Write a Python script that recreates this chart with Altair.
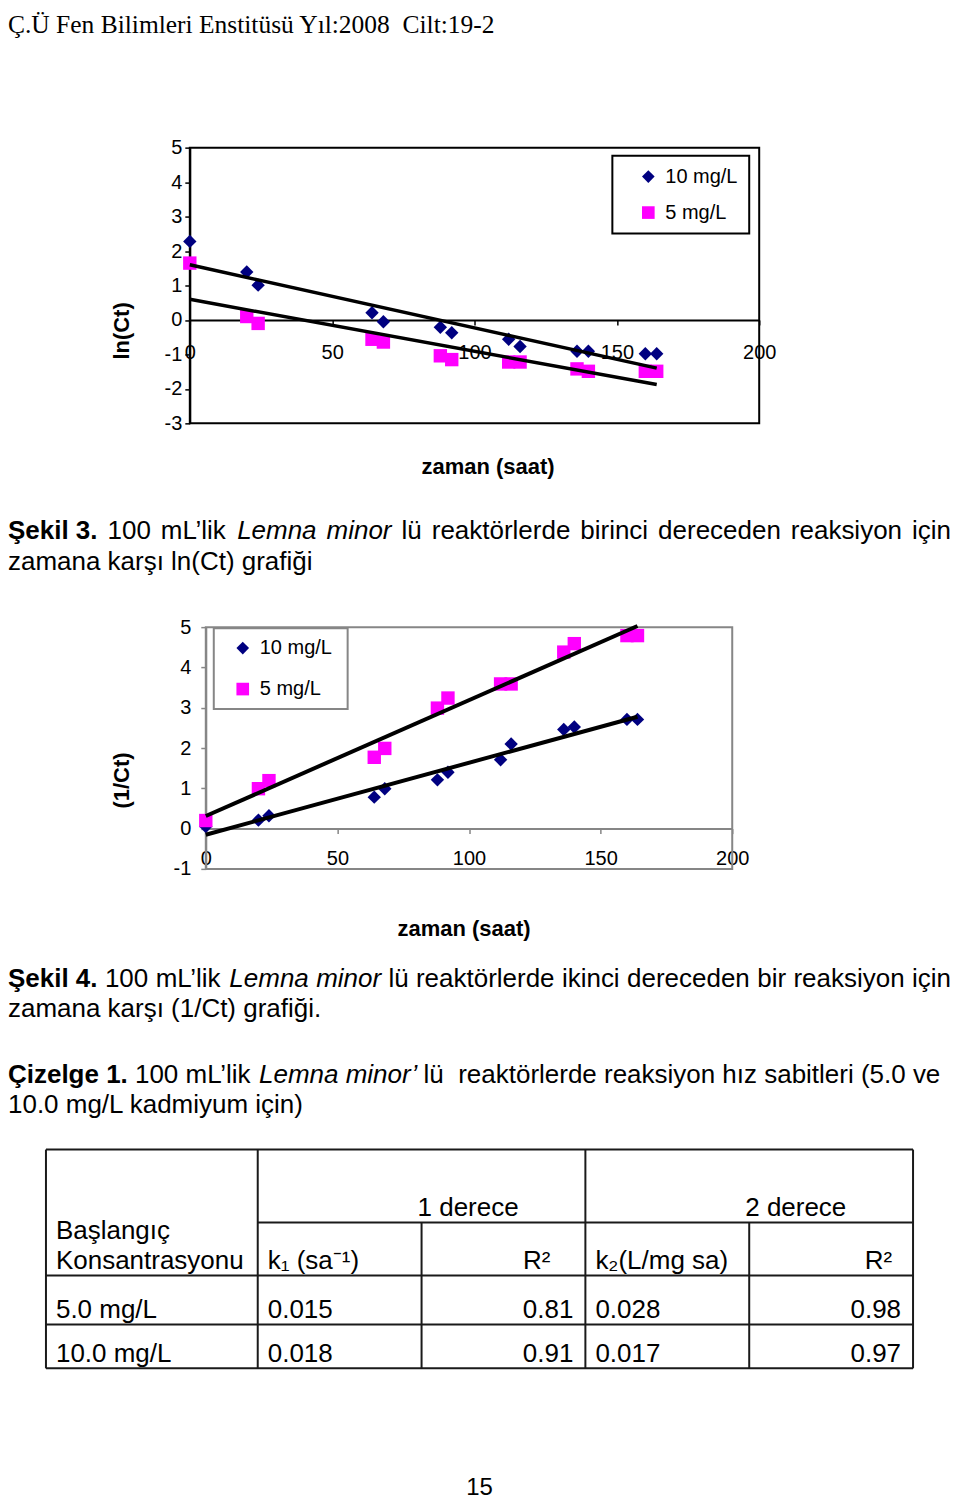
import altair as alt
import pandas as pd

# ---------------- data ----------------
times = [0, 20, 24, 64, 68, 88, 92, 112, 116, 136, 140, 160, 164]
series = ["10 mg/L", "5 mg/L"]
ln_ct_10 = [2.28, 1.39, 1.01, 0.21, -0.05, -0.21, -0.37, -0.56, -0.77, -0.91, -0.91, -0.98, -0.98]
ln_ct_5 = [1.65, 0.10, -0.10, -0.56, -0.64, -1.04, -1.15, -1.22, -1.22, -1.42, -1.49, -1.49, -1.49]
inv_ct_10 = [0.05, 0.21, 0.32, 0.78, 0.99, 1.21, 1.40, 1.71, 2.10, 2.46, 2.52, 2.71, 2.71]
inv_ct_5 = [0.20, 0.99, 1.19, 1.77, 1.99, 2.99, 3.24, 3.59, 3.59, 4.38, 4.59, 4.79, 4.79]
x_ticks = [0, 50, 100, 150, 200]
y1_ticks = [-3, -2, -1, 0, 1, 2, 3, 4, 5]
y2_ticks = [-1, 0, 1, 2, 3, 4, 5]

order_headers = ["1 derece", "2 derece"]
row_header = ["Başlangıç", "Konsantrasyonu"]
col_headers = ["k₁ (sa⁻¹)", "R²", "k₂(L/mg sa)", "R²"]
conc_labels = ["5.0 mg/L", "10.0 mg/L"]
k1_values = ["0.015", "0.018"]
r2_first = ["0.81", "0.91"]
k2_values = ["0.028", "0.017"]
r2_second = ["0.98", "0.97"]

# ---------------- layout / style constants ----------------
W = 944
H1, H2, H3 = 588, 450, 456
SANS = "Liberation Sans, Arial, Helvetica, sans-serif"
SERIF = "Liberation Serif, Times New Roman, serif"
NAVY = "#000080"
MAGENTA = "#FF00FF"
GRAY = "#868686"
ONE = pd.DataFrame({"k": [0]})


def text(s, x, y, size=26, weight="normal", style="normal", align="left", font=SANS):
    return alt.Chart(ONE).mark_text(
        align=align, baseline="alphabetic", font=font, fontSize=size,
        fontWeight=weight, fontStyle=style, color="black"
    ).encode(x=alt.value(x), y=alt.value(y), text=alt.value(s))


def words(items, y):
    out = []
    for it in items:
        s, x = it[0], it[1]
        w = it[2] if len(it) > 2 else "normal"
        st = it[3] if len(it) > 3 else "normal"
        out.append(text(s, x, y, weight=w, style=st))
    return out


def box(x1, x2, y1, y2, stroke):
    return alt.Chart(ONE).mark_rect(fill="white", stroke=stroke, strokeWidth=2).encode(
        x=alt.value(x1), x2=alt.value(x2), y=alt.value(y1), y2=alt.value(y2)
    )


def scatter_band(v10, v5, xr, ydom, yr, yticks, H, axis_color, line_w,
                 ytitle, ytitle_x, ytitle_y, xtitle_x, xtitle_y,
                 xlab_pad, ylab_pad, leg, legbox):
    df = pd.DataFrame({
        "t": times * 2,
        "v": v10 + v5,
        "s": [series[0]] * len(times) + [series[1]] * len(times),
    })
    frame = pd.DataFrame({"t": [0], "t2": [200], "v": [ydom[0]], "v2": [ydom[1]]})
    zero_y = yr[0] + (0 - ydom[0]) * (yr[1] - yr[0]) / (ydom[1] - ydom[0])
    xs = alt.Scale(domain=[0, 200], range=xr, nice=False, zero=False)
    ys = alt.Scale(domain=ydom, range=yr, nice=False, zero=False)
    xaxis = alt.Axis(
        orient="bottom", offset=zero_y - H, values=x_ticks, grid=False,
        domainColor=axis_color, domainWidth=2, tickColor=axis_color, tickWidth=1.5,
        tickSize=5, labelFont=SANS, labelFontSize=20, labelColor="black",
        labelPadding=xlab_pad, labelFlush=False, labelOverlap=False,
        labelExpr="'' + datum.value",
        title="zaman (saat)", titleFont=SANS, titleFontSize=22, titleFontWeight="bold",
        titleColor="black", titleX=xtitle_x, titleY=xtitle_y - zero_y,
        titleAlign="center", titleBaseline="alphabetic", titleAngle=0,
    )
    yaxis = alt.Axis(
        orient="left", offset=-xr[0], values=yticks, grid=False,
        domainColor=axis_color, domainWidth=2, tickColor=axis_color, tickWidth=1.5,
        tickSize=5, labelFont=SANS, labelFontSize=20, labelColor="black",
        labelPadding=ylab_pad, labelOverlap=False, labelExpr="'' + datum.value",
        title=ytitle, titleFont=SANS, titleFontSize=22, titleFontWeight="bold",
        titleColor="black", titleX=ytitle_x - xr[0], titleY=ytitle_y,
        titleAngle=270, titleAlign="center", titleBaseline="middle",
    )
    rect = alt.Chart(frame).mark_rect(fillOpacity=0, stroke=axis_color, strokeWidth=2).encode(
        x=alt.X("t:Q", scale=xs, axis=xaxis), x2="t2:Q",
        y=alt.Y("v:Q", scale=ys, axis=yaxis), y2="v2:Q",
    )
    pts = alt.Chart(df).mark_point(filled=True, size=180, opacity=1).encode(
        x=alt.X("t:Q", scale=xs, axis=xaxis),
        y=alt.Y("v:Q", scale=ys, axis=yaxis),
        color=alt.Color("s:N", scale=alt.Scale(domain=series, range=[NAVY, MAGENTA]), legend=leg),
        shape=alt.Shape("s:N", scale=alt.Scale(domain=series, range=["diamond", "square"]), legend=leg),
    )
    lines = alt.Chart(df).transform_regression("t", "v", groupby=["s"]).mark_line(
        color="black", strokeWidth=line_w
    ).encode(
        x=alt.X("t:Q", scale=xs, axis=xaxis),
        y=alt.Y("v:Q", scale=ys, axis=yaxis),
        detail="s:N",
    )
    return [rect, box(*legbox, axis_color), pts, lines]


def legend(x, y, sym_off, row_pad, pad):
    return alt.Legend(
        title=None, orient="none", legendX=x, legendY=y,
        padding=pad, rowPadding=row_pad, symbolOffset=sym_off,
        labelOffset=7, labelFont=SANS, labelFontSize=20, labelColor="black",
        symbolSize=160, symbolStrokeWidth=0,
    )


# ---------------- band 1: header + figure 3 ----------------
leg1 = legend(605, 147, 15, 16, 11)
band1_layers = scatter_band(
    ln_ct_10, ln_ct_5, [182, 752], [-3, 5], [415, 139], y1_ticks, H1, "black", 3.5,
    "ln(Ct)", 114, 322, 480, 465, 18, 3, leg1, (605, 742, 147, 225),
)
band1_layers.append(text("Ç.Ü Fen Bilimleri Enstitüsü Yıl:2008\u00a0 Cilt:19-2", 0, 24, size=25.5, font=SERIF))
band1_layers += words([
    ("Şekil 3.", 0, "bold"), ("100", 99.6), ("mL’lik", 153.0),
    ("Lemna", 229.4, "normal", "italic"), ("minor", 318.9, "normal", "italic"),
    ("lü", 394.0), ("reaktörlerde", 424.2), ("birinci", 572.9),
    ("dereceden", 650.8), ("reaksiyon", 783.7), ("için", 905.0),
], 531)
band1_layers.append(text("zamana karşı ln(Ct) grafiği", 0, 562))
band1 = alt.layer(*band1_layers).properties(width=W, height=H1)

# ---------------- band 2: figure 4 ----------------
leg2 = legend(206, 32, 9, 21, 10)
band2_layers = scatter_band(
    inv_ct_10, inv_ct_5, [198, 725], [-1, 5], [273, 31], y2_ticks, H2, GRAY, 4,
    "(1/Ct)", 114, 184, 456, 340, 15, 10, leg2, (206, 340, 32, 113),
)
band2_layers += words([
    ("Şekil 4.", 0, "bold"), ("100", 97.0), ("mL’lik", 147.8),
    ("Lemna", 221.6, "normal", "italic"), ("minor", 308.5, "normal", "italic"),
    ("lü", 380.9), ("reaktörlerde", 408.4), ("ikinci", 554.5),
    ("dereceden", 619.7), ("bir", 750.0), ("reaksiyon", 786.3), ("için", 905.0),
], 391)
band2_layers.append(text("zamana karşı (1/Ct) grafiği.", 0, 421))
band2 = alt.layer(*band2_layers).properties(width=W, height=H2)

# ---------------- band 3: table ----------------
tx = alt.Scale(domain=[0, 1, 2, 3, 4, 5], range=[38, 250, 414, 578, 742, 906], nice=False, zero=False)
ty = alt.Scale(domain=[0, 1, 2, 3, 4], range=[104, 177, 230, 279, 323], nice=False, zero=False)

grid = pd.DataFrame({
    "xa": [0, 1, 0, 0, 0, 0, 1, 2, 3, 4, 5],
    "xb": [5, 5, 5, 5, 5, 0, 1, 2, 3, 4, 5],
    "ya": [0, 1, 2, 3, 4, 0, 0, 1, 0, 1, 0],
    "yb": [0, 1, 2, 3, 4, 4, 4, 4, 4, 4, 4],
})
rules = alt.Chart(grid).mark_rule(color="#1a1a1a", strokeWidth=2).encode(
    x=alt.X("xa:Q", scale=tx, axis=None), x2="xb:Q",
    y=alt.Y("ya:Q", scale=ty, axis=None), y2="yb:Q",
)


def cells(texts, cols, rows, align, dx, dy):
    d = pd.DataFrame({"txt": texts, "c": cols, "r": rows})
    return alt.Chart(d).mark_text(
        align=align, baseline="alphabetic", dx=dx, dy=dy, font=SANS, fontSize=26, color="black"
    ).encode(
        x=alt.X("c:Q", scale=tx, axis=None),
        y=alt.Y("r:Q", scale=ty, axis=None),
        text="txt:N",
    )


left_cells = cells(
    [row_header[1], col_headers[0], col_headers[2]] + conc_labels + k1_values + k2_values,
    [0, 1, 3, 0, 0, 1, 1, 3, 3],
    [2, 2, 2, 3, 4, 3, 4, 3, 4],
    "left", 10, -6.5,
)
right_cells = cells(
    r2_first + r2_second, [3, 3, 5, 5], [3, 4, 3, 4], "right", -12, -6.5,
)
group_cells = cells(order_headers, [2, 4], [1, 1], "left", -4, -7)
top_left = cells([row_header[0]], [0], [2], "left", 10, -36)
r2_head_1 = cells([col_headers[1]], [3], [2], "right", -35, -6.5)
r2_head_2 = cells([col_headers[3]], [5], [2], "right", -21, -6.5)

band3_layers = [rules, left_cells, right_cells, group_cells, top_left, r2_head_1, r2_head_2]
band3_layers += words([
    ("Çizelge 1.", 0, "bold"), ("100 mL’lik", 127.1),
    ("Lemna minor’", 251.3, "normal", "italic"), ("lü", 416.0),
    ("reaktörlerde reaksiyon hız sabitleri (5.0 ve", 450.7),
], 37)
band3_layers.append(text("10.0 mg/L kadmiyum için)", 0, 67))
band3_layers.append(text("15", 472, 450, size=24, align="center"))
band3 = alt.layer(*band3_layers).properties(width=W, height=H3)

chart = alt.vconcat(
    band1, band2, band3, spacing=0, bounds="flush", padding=0
).resolve_scale(
    x="independent", y="independent", color="independent", shape="independent"
).resolve_legend(
    color="independent", shape="independent"
).configure_view(stroke="transparent", strokeWidth=0)

chart.save("out.html", embed_options={"renderer": "svg", "actions": False})
